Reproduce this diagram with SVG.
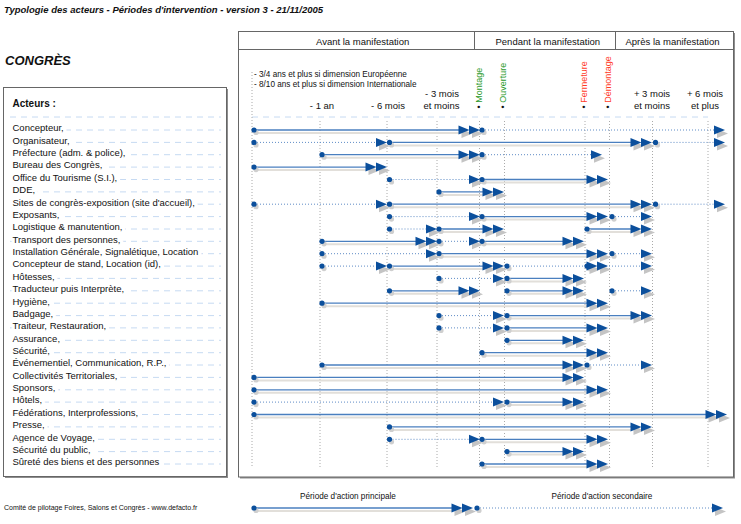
<svg xmlns="http://www.w3.org/2000/svg" width="741" height="524" viewBox="0 0 741 524">
<style>
text{font-family:"Liberation Sans",Arial,sans-serif;fill:#111}
.t{font-size:9.5px;font-weight:bold;font-style:italic}
.h{font-size:13px;font-weight:bold;font-style:italic}
.ac{font-size:10px;font-weight:bold}
.lb{font-size:9.5px;stroke:#fff;stroke-width:7px;paint-order:stroke;stroke-linejoin:round}
.hd{font-size:9.5px}
.col{font-size:9.5px;text-anchor:middle}
.sm{font-size:8.2px}
.ft{font-size:7px}
.lg{font-size:8.2px;text-anchor:middle}
.vt{font-size:9px}
.g{fill:#2a9a2a}
.r{fill:#ff3b1f}
.guide{stroke:#c6daf2;stroke-width:1;stroke-dasharray:6 5;fill:none}
.vl{stroke:#aaa;stroke-width:1;stroke-dasharray:1 2;fill:none}
.pl{stroke:#4a7fbf;stroke-width:1.3;fill:none}
.ps{stroke:#e2dfda;stroke-width:2;fill:none}
.sl{stroke:#5f8cc6;stroke-width:1;stroke-dasharray:1 2;fill:none}
.box{fill:#fff;stroke:#666;stroke-width:1}
.sh{fill:#8e8e8e}
.ln{stroke:#666;stroke-width:1;fill:none}
</style>
<defs>
<g id="dot"><circle cx="2" cy="2.5" r="2.6" fill="#cfcfcf"/><circle r="2.6" fill="#0b4f9c"/></g>
<g id="ar"><path d="M-8,-1 L3,3.5 L-8,8 Z" fill="#c4c4c4"/><path d="M-11,-4.5 L0,0 L-11,4.5 Z" fill="#0b4f9c"/></g>
<g id="ar2"><use href="#ar" x="-10.5"/><use href="#ar"/></g>
</defs>

<text id="title" class="t" x="4" y="13">Typologie des acteurs - Périodes d'intervention - version 3 - 21/11/2005</text>
<text id="congres" class="h" x="5" y="65">CONGRÈS</text>

<g id="actors-panel">
<rect class="sh" x="5" y="89" width="223" height="389"/>
<rect class="box" x="3.5" y="87.5" width="223" height="389"/>
<text class="ac" x="12.5" y="106.5">Acteurs :</text>
<path class="guide" d="M10 117H221"/>
</g>

<g id="actors">
<g id="row-01"><path class="guide" d="M10 130H221"/><text class="lb" x="12.5" y="131.3">Concepteur,</text></g>
<g id="row-02"><path class="guide" d="M10 142.4H221"/><text class="lb" x="12.5" y="143.7">Organisateur,</text></g>
<g id="row-03"><path class="guide" d="M10 154.7H221"/><text class="lb" x="12.5" y="156">Préfecture (adm. &amp; police),</text></g>
<g id="row-04"><path class="guide" d="M10 167.1H221"/><text class="lb" x="12.5" y="168.4">Bureau des Congrès,</text></g>
<g id="row-05"><path class="guide" d="M10 179.5H221"/><text class="lb" x="12.5" y="180.8">Office du Tourisme (S.I.),</text></g>
<g id="row-06"><path class="guide" d="M10 191.9H221"/><text class="lb" x="12.5" y="193.2">DDE,</text></g>
<g id="row-07"><path class="guide" d="M10 204.2H221"/><text class="lb" x="12.5" y="205.5">Sites de congrès-exposition (site d'accueil),</text></g>
<g id="row-08"><path class="guide" d="M10 216.6H221"/><text class="lb" x="12.5" y="217.9">Exposants,</text></g>
<g id="row-09"><path class="guide" d="M10 229H221"/><text class="lb" x="12.5" y="230.3">Logistique &amp; manutention,</text></g>
<g id="row-10"><path class="guide" d="M10 241.3H221"/><text class="lb" x="12.5" y="242.6">Transport des personnes,</text></g>
<g id="row-11"><path class="guide" d="M10 253.7H221"/><text class="lb" x="12.5" y="255">Installation Générale, Signalétique, Location</text></g>
<g id="row-12"><path class="guide" d="M10 266.1H221"/><text class="lb" x="12.5" y="267.4">Concepteur de stand, Location (id),</text></g>
<g id="row-13"><path class="guide" d="M10 278.4H221"/><text class="lb" x="12.5" y="279.7">Hôtesses,</text></g>
<g id="row-14"><path class="guide" d="M10 290.8H221"/><text class="lb" x="12.5" y="292.1">Traducteur puis Interprète,</text></g>
<g id="row-15"><path class="guide" d="M10 303.2H221"/><text class="lb" x="12.5" y="304.5">Hygiène,</text></g>
<g id="row-16"><path class="guide" d="M10 315.6H221"/><text class="lb" x="12.5" y="316.9">Badgage,</text></g>
<g id="row-17"><path class="guide" d="M10 327.9H221"/><text class="lb" x="12.5" y="329.2">Traiteur, Restauration,</text></g>
<g id="row-18"><path class="guide" d="M10 340.3H221"/><text class="lb" x="12.5" y="341.6">Assurance,</text></g>
<g id="row-19"><path class="guide" d="M10 352.7H221"/><text class="lb" x="12.5" y="354">Sécurité,</text></g>
<g id="row-20"><path class="guide" d="M10 365H221"/><text class="lb" x="12.5" y="366.3">Événementiel, Communication, R.P.,</text></g>
<g id="row-21"><path class="guide" d="M10 377.4H221"/><text class="lb" x="12.5" y="378.7">Collectivités Territoriales,</text></g>
<g id="row-22"><path class="guide" d="M10 389.8H221"/><text class="lb" x="12.5" y="391.1">Sponsors,</text></g>
<g id="row-23"><path class="guide" d="M10 402.1H221"/><text class="lb" x="12.5" y="403.4">Hôtels,</text></g>
<g id="row-24"><path class="guide" d="M10 414.5H221"/><text class="lb" x="12.5" y="415.8">Fédérations, Interprofessions,</text></g>
<g id="row-25"><path class="guide" d="M10 426.9H221"/><text class="lb" x="12.5" y="428.2">Presse,</text></g>
<g id="row-26"><path class="guide" d="M10 439.3H221"/><text class="lb" x="12.5" y="440.6">Agence de Voyage,</text></g>
<g id="row-27"><path class="guide" d="M10 451.6H221"/><text class="lb" x="12.5" y="452.9">Sécurité du public,</text></g>
<g id="row-28"><path class="guide" d="M10 464H221"/><text class="lb" x="12.5" y="465.3">Sûreté des biens et des personnes</text></g>
</g>

<g id="timeline-panel">
<rect class="sh" x="240" y="33" width="495" height="445.5"/>
<rect class="box" x="238.5" y="31.5" width="495" height="445.5"/>
<path class="ln" d="M238.5 49.5H733.5M474.5 31.5V49.5M615.5 31.5V49.5"/>
<text class="hd" x="316" y="44.5">Avant la manifestation</text>
<text class="hd" x="495.5" y="44.5">Pendant la manifestation</text>
<text class="hd" x="625.5" y="44.5">Après la manifestation</text>
<text class="sm" x="254" y="77">- 3/4 ans et plus si dimension Européenne</text>
<text class="sm" x="254" y="87">- 8/10 ans et plus si dimension Internationale</text>
<text class="col" x="322" y="109">- 1 an</text>
<text class="col" x="388" y="109">- 6 mois</text>
<text class="col" x="442" y="97">- 3 mois</text>
<text class="col" x="441.5" y="109">et moins</text>
<text class="col" x="652" y="97">+ 3 mois</text>
<text class="col" x="652" y="109">et moins</text>
<text class="col" x="705" y="97">+ 6 mois</text>
<text class="col" x="705" y="109">et plus</text>
<text class="vt" transform="translate(482.3,108.5) rotate(-90)">•<tspan class="g"> Montage</tspan></text>
<text class="vt" transform="translate(506,108.5) rotate(-90)">•<tspan class="g"> Ouverture</tspan></text>
<text class="vt" transform="translate(587,108.5) rotate(-90)">•<tspan class="r"> Fermeture</tspan></text>
<text class="vt" transform="translate(611.3,108.5) rotate(-90)">•<tspan class="r"> Démontage</tspan></text>
<path class="guide" d="M252 117H708"/>
<path class="vl" d="M252 72V467M320 121V467M387 121V467M437 121V467M479.5 121V467M504.5 121V467M585 121V467M609.5 121V467M652.5 121V467M708 121V467"/>
</g>

<g id="connectors">
<g id="bars-01">
<path class="ps" d="M254 133H459"/><path class="pl" d="M254 130H459"/><use href="#dot" x="254" y="130"/><use href="#ar2" x="480" y="130"/>
<path class="sl" d="M482 130H714"/><use href="#dot" x="482" y="130"/><use href="#ar" x="725" y="130"/>
</g>
<g id="bars-02">
<path class="sl" d="M254 142.4H376"/><use href="#dot" x="254" y="142.4"/><use href="#ar" x="387" y="142.4"/>
<path class="ps" d="M389.5 145.4H631"/><path class="pl" d="M389.5 142.4H631"/><use href="#dot" x="389.5" y="142.4"/><use href="#ar2" x="652" y="142.4"/>
<path class="sl" d="M655.5 142.4H714"/><use href="#dot" x="655.5" y="142.4"/><use href="#ar" x="725" y="142.4"/>
</g>
<g id="bars-03">
<path class="ps" d="M322 157.7H459"/><path class="pl" d="M322 154.7H459"/><use href="#dot" x="322" y="154.7"/><use href="#ar2" x="480" y="154.7"/>
<path class="sl" d="M482 154.7H591"/><use href="#dot" x="482" y="154.7"/><use href="#ar" x="602" y="154.7"/>
</g>
<g id="bars-04">
<path class="ps" d="M254 170.1H366"/><path class="pl" d="M254 167.1H366"/><use href="#dot" x="254" y="167.1"/><use href="#ar2" x="387" y="167.1"/>
</g>
<g id="bars-05">
<path class="sl" d="M389.5 179.5H469"/><use href="#dot" x="389.5" y="179.5"/><use href="#ar" x="480" y="179.5"/>
<path class="ps" d="M482 182.5H587"/><path class="pl" d="M482 179.5H587"/><use href="#dot" x="482" y="179.5"/><use href="#ar2" x="608" y="179.5"/>
</g>
<g id="bars-06">
<path class="ps" d="M439 194.9H483"/><path class="pl" d="M439 191.9H483"/><use href="#dot" x="439" y="191.9"/><use href="#ar2" x="504" y="191.9"/>
</g>
<g id="bars-07">
<path class="sl" d="M254 204.2H376"/><use href="#dot" x="254" y="204.2"/><use href="#ar" x="387" y="204.2"/>
<path class="ps" d="M389.5 207.2H631"/><path class="pl" d="M389.5 204.2H631"/><use href="#dot" x="389.5" y="204.2"/><use href="#ar2" x="652" y="204.2"/>
<path class="sl" d="M655.5 204.2H714"/><use href="#dot" x="655.5" y="204.2"/><use href="#ar" x="725" y="204.2"/>
</g>
<g id="bars-08">
<path class="sl" d="M389.5 216.6H469"/><use href="#dot" x="389.5" y="216.6"/><use href="#ar" x="480" y="216.6"/>
<path class="ps" d="M482 219.6H587"/><path class="pl" d="M482 216.6H587"/><use href="#dot" x="482" y="216.6"/><use href="#ar2" x="608" y="216.6"/>
<path class="sl" d="M612 216.6H641"/><use href="#dot" x="612" y="216.6"/><use href="#ar" x="652" y="216.6"/>
</g>
<g id="bars-09">
<path class="sl" d="M389.5 229H426"/><use href="#dot" x="389.5" y="229"/><use href="#ar" x="437" y="229"/>
<path class="ps" d="M439 232H483"/><path class="pl" d="M439 229H483"/><use href="#dot" x="439" y="229"/><use href="#ar2" x="504" y="229"/>
<path class="ps" d="M587 232H631"/><path class="pl" d="M587 229H631"/><use href="#dot" x="587" y="229"/><use href="#ar2" x="652" y="229"/>
</g>
<g id="bars-10">
<path class="ps" d="M322 244.3H416"/><path class="pl" d="M322 241.3H416"/><use href="#dot" x="322" y="241.3"/><use href="#ar2" x="437" y="241.3"/>
<path class="sl" d="M439 241.3H469"/><use href="#dot" x="439" y="241.3"/><use href="#ar" x="480" y="241.3"/>
<path class="ps" d="M482 244.3H563"/><path class="pl" d="M482 241.3H563"/><use href="#dot" x="482" y="241.3"/><use href="#ar2" x="584" y="241.3"/>
</g>
<g id="bars-11">
<path class="sl" d="M322 253.7H426"/><use href="#dot" x="322" y="253.7"/><use href="#ar" x="437" y="253.7"/>
<path class="ps" d="M439 256.7H587"/><path class="pl" d="M439 253.7H587"/><use href="#dot" x="439" y="253.7"/><use href="#ar2" x="608" y="253.7"/>
<path class="sl" d="M612 253.7H641"/><use href="#dot" x="612" y="253.7"/><use href="#ar" x="652" y="253.7"/>
</g>
<g id="bars-12">
<path class="sl" d="M322 266.1H376"/><use href="#dot" x="322" y="266.1"/><use href="#ar" x="387" y="266.1"/>
<path class="ps" d="M389.5 269.1H483"/><path class="pl" d="M389.5 266.1H483"/><use href="#dot" x="389.5" y="266.1"/><use href="#ar2" x="504" y="266.1"/>
<path class="sl" d="M507 266.1H641"/><use href="#dot" x="507" y="266.1"/><use href="#ar" x="652" y="266.1"/>
<use href="#dot" x="587" y="266.1"/><use href="#ar2" x="608" y="266.1"/>
</g>
<g id="bars-13">
<path class="sl" d="M439 278.4H493"/><use href="#dot" x="439" y="278.4"/><use href="#ar" x="504" y="278.4"/>
<path class="ps" d="M507 281.4H563"/><path class="pl" d="M507 278.4H563"/><use href="#dot" x="507" y="278.4"/><use href="#ar2" x="584" y="278.4"/>
</g>
<g id="bars-14">
<path class="ps" d="M389.5 293.8H459"/><path class="pl" d="M389.5 290.8H459"/><use href="#dot" x="389.5" y="290.8"/><use href="#ar2" x="480" y="290.8"/>
<path class="ps" d="M507 293.8H563"/><path class="pl" d="M507 290.8H563"/><use href="#dot" x="507" y="290.8"/><use href="#ar2" x="584" y="290.8"/>
<path class="sl" d="M612 290.8H641"/><use href="#dot" x="612" y="290.8"/><use href="#ar" x="652" y="290.8"/>
</g>
<g id="bars-15">
<path class="ps" d="M322 306.2H587"/><path class="pl" d="M322 303.2H587"/><use href="#dot" x="322" y="303.2"/><use href="#ar2" x="608" y="303.2"/>
</g>
<g id="bars-16">
<path class="sl" d="M439 315.6H493"/><use href="#dot" x="439" y="315.6"/><use href="#ar" x="504" y="315.6"/>
<path class="ps" d="M507 318.6H631"/><path class="pl" d="M507 315.6H631"/><use href="#dot" x="507" y="315.6"/><use href="#ar2" x="652" y="315.6"/>
</g>
<g id="bars-17">
<path class="sl" d="M439 327.9H493"/><use href="#dot" x="439" y="327.9"/><use href="#ar" x="504" y="327.9"/>
<path class="ps" d="M507 330.9H587"/><path class="pl" d="M507 327.9H587"/><use href="#dot" x="507" y="327.9"/><use href="#ar2" x="608" y="327.9"/>
</g>
<g id="bars-18">
<path class="ps" d="M507 343.3H563"/><path class="pl" d="M507 340.3H563"/><use href="#dot" x="507" y="340.3"/><use href="#ar2" x="584" y="340.3"/>
</g>
<g id="bars-19">
<path class="ps" d="M482 355.7H587"/><path class="pl" d="M482 352.7H587"/><use href="#dot" x="482" y="352.7"/><use href="#ar2" x="608" y="352.7"/>
</g>
<g id="bars-20">
<path class="ps" d="M322 368H563"/><path class="pl" d="M322 365H563"/><use href="#dot" x="322" y="365"/><use href="#ar2" x="584" y="365"/>
<path class="sl" d="M587 365H641"/><use href="#dot" x="587" y="365"/><use href="#ar" x="652" y="365"/>
</g>
<g id="bars-21">
<path class="ps" d="M254 380.4H563"/><path class="pl" d="M254 377.4H563"/><use href="#dot" x="254" y="377.4"/><use href="#ar2" x="584" y="377.4"/>
</g>
<g id="bars-22">
<path class="ps" d="M254 392.8H587"/><path class="pl" d="M254 389.8H587"/><use href="#dot" x="254" y="389.8"/><use href="#ar2" x="608" y="389.8"/>
</g>
<g id="bars-23">
<path class="sl" d="M254 402.1H493"/><use href="#dot" x="254" y="402.1"/><use href="#ar" x="504" y="402.1"/>
<path class="ps" d="M507 405.1H563"/><path class="pl" d="M507 402.1H563"/><use href="#dot" x="507" y="402.1"/><use href="#ar2" x="584" y="402.1"/>
</g>
<g id="bars-24">
<path class="ps" d="M254 417.5H706"/><path class="pl" d="M254 414.5H706"/><use href="#dot" x="254" y="414.5"/><use href="#ar2" x="727" y="414.5"/>
</g>
<g id="bars-25">
<path class="ps" d="M389.5 429.9H631"/><path class="pl" d="M389.5 426.9H631"/><use href="#dot" x="389.5" y="426.9"/><use href="#ar2" x="652" y="426.9"/>
</g>
<g id="bars-26">
<path class="sl" d="M389.5 439.3H469"/><use href="#dot" x="389.5" y="439.3"/><use href="#ar" x="480" y="439.3"/>
<path class="ps" d="M482 442.3H587"/><path class="pl" d="M482 439.3H587"/><use href="#dot" x="482" y="439.3"/><use href="#ar2" x="608" y="439.3"/>
</g>
<g id="bars-27">
<path class="ps" d="M507 454.6H563"/><path class="pl" d="M507 451.6H563"/><use href="#dot" x="507" y="451.6"/><use href="#ar2" x="584" y="451.6"/>
</g>
<g id="bars-28">
<path class="ps" d="M482 467H587"/><path class="pl" d="M482 464H587"/><use href="#dot" x="482" y="464"/><use href="#ar2" x="608" y="464"/>
</g>
</g>

<g id="legend">
<text class="ft" x="4" y="510">Comité de pilotage Foires, Salons et Congrès - www.defacto.fr</text>
<text class="lg" x="348" y="499">Période d'action principale</text>
<text class="lg" x="602" y="499">Période d'action secondaire</text>
<path class="ps" d="M254 511H452"/><path class="pl" d="M254 508H452"/><use href="#dot" x="254" y="508"/><use href="#ar2" x="473" y="508"/>
<path class="sl" d="M477 508H712"/><use href="#dot" x="477" y="508"/><use href="#ar" x="723" y="508"/>
</g>
</svg>
